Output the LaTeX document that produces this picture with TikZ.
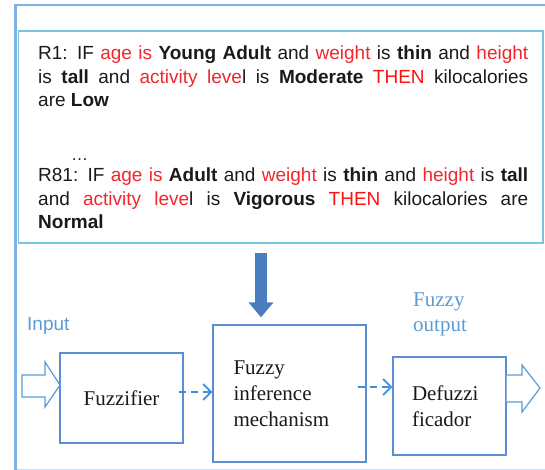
\documentclass[tikz,border=0pt]{standalone}
\usepackage{fontspec}
\newfontfamily\rulefont{Liberation Sans}
\newfontfamily\boxfont{Liberation Serif}
\usetikzlibrary{arrows.meta,calc}
\definecolor{frameblue}{HTML}{7FB2E2}
\definecolor{ruleborder}{HTML}{78C4DA}
\definecolor{boxblue}{HTML}{5A8ED3}
\definecolor{labelblue}{HTML}{5B9BD5}
\definecolor{arrowblue}{HTML}{3D8FDD}
\definecolor{fatblue}{HTML}{4A7CC0}
\definecolor{rulered}{HTML}{F2262B}
\definecolor{thenred}{HTML}{FF1010}
\definecolor{txt}{HTML}{1A1A1A}
\newcommand{\rd}[1]{\textcolor{rulered}{#1}}
\newcommand{\rdd}[1]{\textcolor{thenred}{#1}}
\begin{document}
\begin{tikzpicture}[x=1pt,y=-1pt,
  ruletext/.style={inner sep=0pt, text width=490pt, align=justify, text=txt,
    font=\rulefont\fontsize{19}{23.5}\selectfont},
  blk/.style={draw=boxblue, line width=1.3pt, inner sep=0pt, text=txt,
    font=\boxfont\fontsize{21}{26}\selectfont},
  lblsans/.style={inner sep=0pt, text=labelblue, font=\rulefont\fontsize{19}{23}\selectfont},
  lblserif/.style={inner sep=0pt, text=labelblue, align=left, font=\boxfont\fontsize{21}{25}\selectfont},
  hollow/.style={draw=labelblue, line width=1.2pt, fill=white, line join=miter},
  dasharr/.style={draw=arrowblue, line width=1.8pt, dash pattern=on 7pt off 5pt,
    -{Straight Barb[length=8pt,width=16pt,line width=1.8pt]}},
  fatarr/.style={draw=fatblue, line width=12pt, -{Triangle[width=24pt,length=15pt]}}
]
\useasboundingbox (0,0) rectangle (545,470);
% frame
\draw[frameblue!45, line width=1pt] (15,469) -- (545,469);
\draw[frameblue, line width=1.5pt] (15,5) -- (545,5);
\draw[frameblue, line width=3pt] (15.5,4.5) -- (15.5,470);
% rule box
\draw[ruleborder, line width=1.4pt] (18.5,243) -- (18.5,31) -- (543,31) -- (543,243);
\draw[ruleborder, line width=2.6pt] (17.5,243) -- (544,243);
% rules
\node[ruletext, anchor=base west] (r1) at (38,60) {R1: IF \rd{age is} \textbf{Young Adult} and \rd{weight} is \textbf{thin} and \rd{height}\linebreak is \textbf{tall} and \rd{activity leve}l is \textbf{Moderate} \rdd{THEN} kilocalories\linebreak are \textbf{Low}};
\node[inner sep=0pt, anchor=base west, text=txt, font=\rulefont\fontsize{17}{18}\selectfont] (dots) at (71,161) {\ldots};
\node[ruletext, anchor=base west] (r81) at (38,182) {R81: IF \rd{age is} \textbf{Adult} and \rd{weight} is \textbf{thin} and \rd{height} is \textbf{tall}\linebreak and \rd{activity leve}l is \textbf{Vigorous} \rdd{THEN} kilocalories are\linebreak \textbf{Normal}};
% blocks
\node[blk, minimum width=123pt, minimum height=90pt] (fuzz) at (121.5,398) {Fuzzifier};
\node[blk, minimum width=153pt, minimum height=137pt, text width=112pt, align=left] (inf) at (289.5,393.5) {Fuzzy\\inference\\mechanism};
\node[blk, minimum width=113pt, minimum height=98pt, text width=75pt, align=left] (defz) at (449.5,406) {Defuzzi\\ficador};
% labels
\node[lblsans, anchor=base west] (inp) at (27,330) {Input};
\node[lblserif, anchor=base west] (fo) at (413,331) {Fuzzy\\output};
% hollow arrows
\coordinate (intip) at (60,385);
\draw[hollow] ($(intip)+(-38,-10)$) -- ($(intip)+(-15,-10)$) -- ($(intip)+(-15,-23)$) -- (intip) -- ($(intip)+(-15,22)$) -- ($(intip)+(-15,12)$) -- ($(intip)+(-38,12)$) -- cycle;
\coordinate (outtip) at (540,388);
\draw[hollow] (defz.east |- 0,375) -- ($(outtip)+(-18,-13)$) -- ($(outtip)+(-18,-23)$) -- (outtip) -- ($(outtip)+(-18,24)$) -- ($(outtip)+(-18,14)$) -- (defz.east |- 0,402);
% dashed connectors
\draw[dasharr] ([xshift=-5pt,yshift=6pt]fuzz.east) -- ([yshift=1.5pt]inf.west);
\draw[dasharr] ([xshift=-9pt,yshift=6.5pt]inf.east) -- ([yshift=19pt]defz.west);
% rule-base arrow
\coordinate (rb) at (261,253);
\draw[fatarr, shorten >=7pt] (rb) -- (rb |- inf.north);
\end{tikzpicture}
\end{document}
